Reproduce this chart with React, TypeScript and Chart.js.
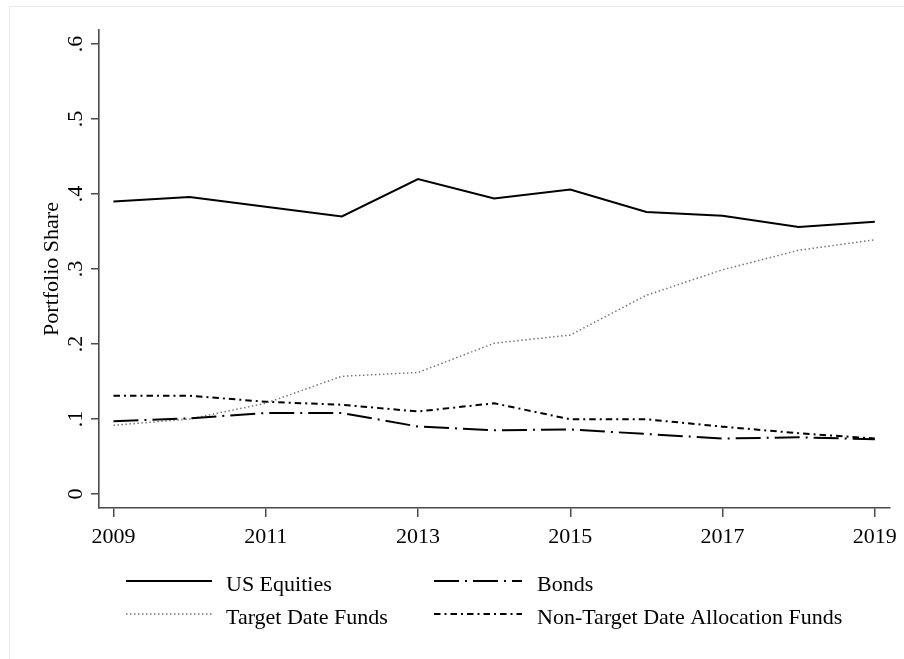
import React, { useEffect, useRef } from "react";
import { Chart, registerables } from "chart.js";

Chart.register(...registerables);

const years = [2009, 2010, 2011, 2012, 2013, 2014, 2015, 2016, 2017, 2018, 2019];
const usEquities = [0.39, 0.396, 0.383, 0.37, 0.42, 0.394, 0.406, 0.376, 0.371, 0.356, 0.363];
const bonds = [0.097, 0.101, 0.108, 0.108, 0.09, 0.085, 0.086, 0.08, 0.074, 0.0756, 0.073];
const targetDateFunds = [0.0916, 0.1, 0.121, 0.157, 0.162, 0.201, 0.212, 0.265, 0.299, 0.325, 0.339];
const nonTargetFunds = [0.131, 0.131, 0.123, 0.119, 0.11, 0.121, 0.0996, 0.0996, 0.0898, 0.081, 0.074];

const seriesLabels = ["US Equities", "Bonds", "Target Date Funds", "Non-Target Date Allocation Funds"];
const xTicks = [2009, 2011, 2013, 2015, 2017, 2019];
const yTicks = [0, 0.1, 0.2, 0.3, 0.4, 0.5, 0.6];
const yTickLabels = ["0", ".1", ".2", ".3", ".4", ".5", ".6"];
const yTitle = "Portfolio Share";

const FONT = "'Liberation Serif', 'Times New Roman', serif";
const AXIS = "#4a4a4a";

const legendPlugin = {
  id: "stataLegend",
  afterDraw(chart: any) {
    const ctx = chart.ctx;
    ctx.save();
    // faint outer frame
    ctx.strokeStyle = "#e9e9e9";
    ctx.lineWidth = 1;
    ctx.strokeRect(9.5, 6.5, 1000, 1000);

    const cols = [
      { lineX0: 126, lineX1: 212, textX: 226 },
      { lineX0: 434, lineX1: 522, textX: 537 },
    ];
    const rows = [
      { lineY: 581, textY: 591 },
      { lineY: 614, textY: 624 },
    ];
    chart.data.datasets.forEach((ds: any, i: number) => {
      const c = cols[i % 2];
      const r = rows[Math.floor(i / 2)];
      ctx.beginPath();
      ctx.setLineDash(ds.borderDash || []);
      ctx.strokeStyle = ds.borderColor;
      ctx.lineWidth = ds.borderWidth;
      ctx.moveTo(c.lineX0, r.lineY);
      ctx.lineTo(c.lineX1, r.lineY);
      ctx.stroke();
      ctx.setLineDash([]);
      ctx.fillStyle = "#000";
      ctx.font = `22px ${FONT}`;
      ctx.textBaseline = "alphabetic";
      ctx.textAlign = "left";
      ctx.fillText(ds.label, c.textX, r.textY);
    });
    ctx.restore();
  },
};

function toPoints(vals: number[]) {
  return years.map((y, i) => ({ x: y, y: vals[i] }));
}

export default function App() {
  const ref = useRef<HTMLCanvasElement | null>(null);
  useEffect(() => {
    if (!ref.current) return;
    const chart = new Chart(ref.current, {
      type: "line",
      data: {
        datasets: [
          {
            label: seriesLabels[0],
            data: toPoints(usEquities),
            borderColor: "#000",
            borderWidth: 2,
            borderDash: [],
            pointRadius: 0,
            tension: 0,
          },
          {
            label: seriesLabels[1],
            data: toPoints(bonds),
            borderColor: "#000",
            borderWidth: 2,
            borderDash: [25, 6, 2, 6],
            pointRadius: 0,
            tension: 0,
          },
          {
            label: seriesLabels[2],
            data: toPoints(targetDateFunds),
            borderColor: "#777",
            borderWidth: 1.5,
            borderDash: [1.5, 2.5],
            pointRadius: 0,
            tension: 0,
          },
          {
            label: seriesLabels[3],
            data: toPoints(nonTargetFunds),
            borderColor: "#000",
            borderWidth: 2,
            borderDash: [6.5, 4, 2, 4],
            pointRadius: 0,
            tension: 0,
          },
        ],
      },
      options: {
        animation: false,
        responsive: false,
        devicePixelRatio: 1,
        layout: { padding: { left: 0, top: 30, right: 11, bottom: 0 } },
        plugins: {
          legend: { display: false },
          tooltip: { enabled: false },
        },
        font: { family: FONT, size: 22 },
        scales: {
          x: {
            type: "linear",
            min: 2008.81,
            max: 2019.19,
            afterBuildTicks: (scale: any) => {
              scale.ticks = xTicks.map((v) => ({ value: v }));
            },
            afterFit: (scale: any) => {
              scale.height = 151;
            },
            ticks: {
              autoSkip: false,
              maxRotation: 0,
              minRotation: 0,
              padding: 7,
              color: "#000",
              font: { family: FONT, size: 22 },
              callback: (v: any) => String(v),
            },
            grid: {
              display: true,
              drawOnChartArea: false,
              drawTicks: true,
              tickLength: 9,
              color: AXIS,
              lineWidth: 1.5,
            },
            border: { display: true, color: AXIS, width: 1.6 },
          },
          y: {
            type: "linear",
            min: -0.01867,
            max: 0.6187,
            afterBuildTicks: (scale: any) => {
              scale.ticks = yTicks.map((v) => ({ value: v }));
            },
            afterFit: (scale: any) => {
              scale.width = 99;
            },
            ticks: {
              autoSkip: false,
              minRotation: 90,
              maxRotation: 90,
              crossAlign: "center",
              padding: 7,
              color: "#000",
              font: { family: FONT, size: 22 },
              callback: (v: any) => {
                const idx = yTicks.indexOf(v);
                return idx >= 0 ? yTickLabels[idx] : "";
              },
            },
            title: {
              display: true,
              text: yTitle,
              color: "#000",
              font: { family: FONT, size: 22 },
              padding: { top: 39, bottom: 0 },
            },
            grid: {
              display: true,
              drawOnChartArea: false,
              drawTicks: true,
              tickLength: 8,
              color: AXIS,
              lineWidth: 1.5,
            },
            border: { display: true, color: AXIS, width: 1.6 },
          },
        },
      } as any,
      plugins: [legendPlugin],
    });
    return () => chart.destroy();
  }, []);

  return (
    <div style={{ position: "fixed", left: 0, top: 0, width: 904, height: 659, background: "#fff" }}>
      <canvas ref={ref} width={904} height={659} style={{ width: 904, height: 659, display: "block" }} />
    </div>
  );
}
